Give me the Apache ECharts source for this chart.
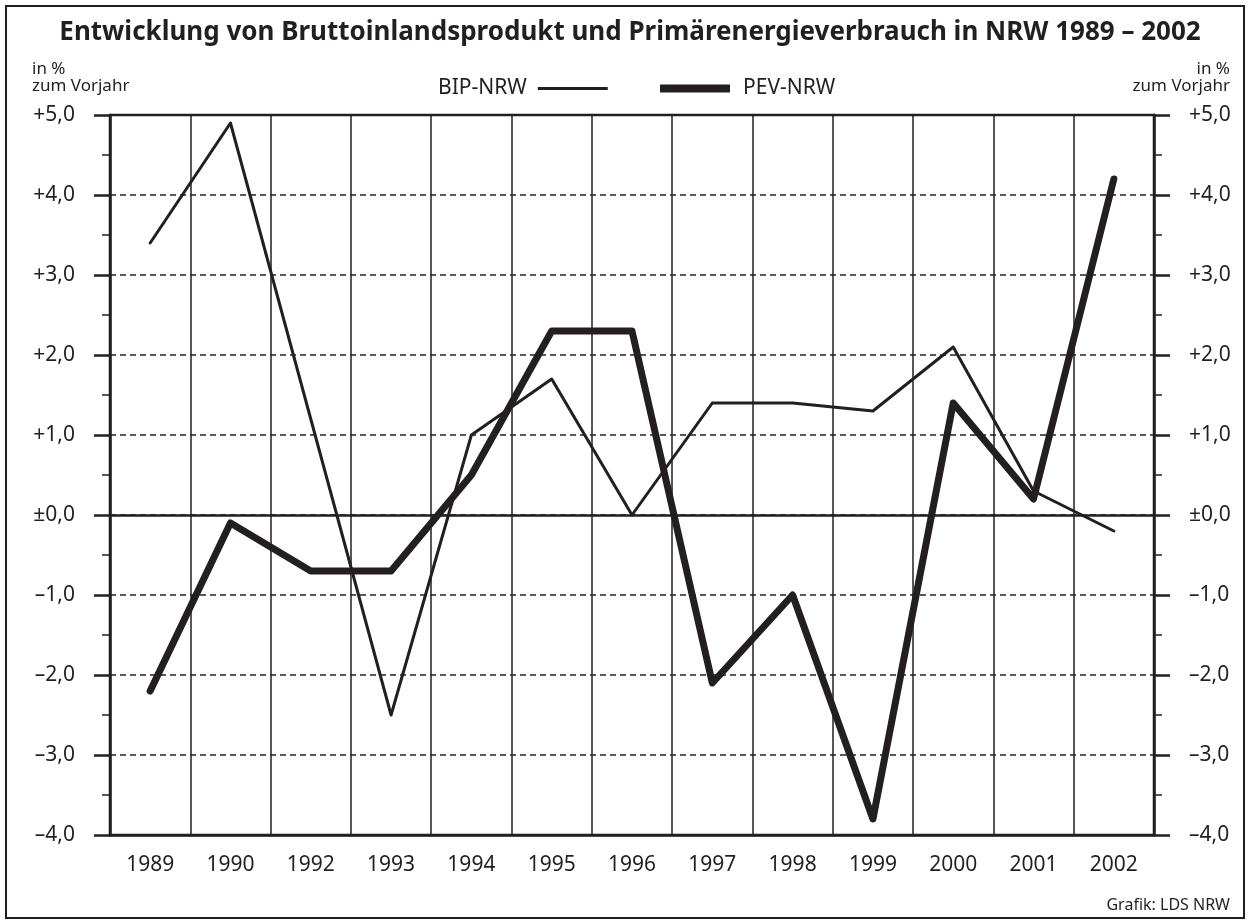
<!DOCTYPE html>
<html>
<head>
<meta charset="utf-8">
<script src="https://cdn.jsdelivr.net/npm/echarts@6/dist/echarts.min.js"></script>
<style>
html,body{margin:0;padding:0;background:#fff;}
#main{width:1250px;height:924px;}
</style>
</head>
<body>
<div id="main"></div>
<script>
// Jahre (1991 fehlt in der Vorlage)
const years = ['1989','1990','1992','1993','1994','1995','1996','1997','1998','1999','2000','2001','2002'];
// Veränderung in % zum Vorjahr
const bipNRW = [3.4, 4.9, 1.2, -2.5, 1.0, 1.7, 0.0, 1.4, 1.4, 1.3, 2.1, 0.3, -0.2];
const pevNRW = [-2.2, -0.1, -0.7, -0.7, 0.5, 2.3, 2.3, -2.1, -1.0, -3.8, 1.4, 0.2, 4.2];
// Achsenbeschriftung von -4 bis +5
const yTickLabels = ['–4,0','–3,0','–2,0','–1,0','±0,0','+1,0','+2,0','+3,0','+4,0','+5,0'];

const ink = '#231f20';
const font = '"Noto Sans", "Open Sans", sans-serif';

let myChart = echarts.init(document.getElementById('main'));

const yAxisBase = {
    type: 'value',
    min: -4,
    max: 5,
    interval: 1,
    axisLine: { show: true, lineStyle: { color: ink, width: 2.5 } },
    axisTick: { show: true, length: 16, lineStyle: { color: ink, width: 2.5 } },
    minorTick: { show: true, splitNumber: 2, length: 8, lineStyle: { color: ink, width: 1.5 } },
    axisLabel: {
        margin: 35,
        color: ink,
        fontSize: 21,
        fontFamily: font,
        formatter: function (v) { return yTickLabels[Math.round(v) + 4]; }
    }
};

const options = {
    animation: false,
    backgroundColor: '#fff',
    textStyle: { fontFamily: font, color: ink },
    grid: {
        left: 110,
        right: 96,
        top: 115,
        bottom: 89,
        show: true,
        borderColor: ink,
        borderWidth: 2.5,
        backgroundColor: 'transparent'
    },
    legend: [
        {
            data: [{ name: 'BIP-NRW', icon: 'rect' }],
            left: 433,
            top: 73,
            align: 'right',
            itemWidth: 70,
            itemHeight: 3,
            textStyle: { fontSize: 21, color: ink, fontFamily: font, padding: [0, 6, 0, 0] }
        },
        {
            data: [{ name: 'PEV-NRW', icon: 'rect' }],
            left: 655,
            top: 73,
            align: 'left',
            itemWidth: 70,
            itemHeight: 8,
            textStyle: { fontSize: 21, color: ink, fontFamily: font, padding: [0, 0, 0, 8] }
        }
    ],
    xAxis: {
        type: 'category',
        data: years,
        boundaryGap: true,
        axisLine: { show: true, onZero: false, lineStyle: { color: ink, width: 2.5 } },
        axisTick: { show: false },
        splitLine: { show: true, interval: 0, lineStyle: { color: ink, width: 1.5 } },
        axisLabel: { margin: 20, color: ink, fontSize: 21, fontFamily: font, interval: 0 }
    },
    yAxis: [
        Object.assign({}, yAxisBase, {
            position: 'left',
            splitLine: { show: true, lineStyle: { color: ink, width: 1.5, type: [6, 4] } }
        }),
        Object.assign({}, yAxisBase, {
            position: 'right',
            splitLine: { show: false }
        })
    ],
    series: [
        {
            name: 'BIP-NRW',
            type: 'line',
            data: bipNRW,
            symbol: 'none',
            color: ink,
            lineStyle: { color: ink, width: 3, cap: 'round', join: 'round' },
            markLine: {
                silent: true,
                symbol: ['none', 'none'],
                label: { show: false },
                lineStyle: { color: ink, width: 2.5, type: 'solid' },
                data: [{ yAxis: 0 }]
            },
            z: 3
        },
        {
            name: 'PEV-NRW',
            type: 'line',
            data: pevNRW,
            symbol: 'none',
            color: ink,
            lineStyle: { color: ink, width: 7, cap: 'round', join: 'round' },
            z: 4
        }
    ],
    graphic: [
        {
            type: 'rect',
            shape: { x: 6, y: 6, width: 1238, height: 912 },
            style: { fill: 'none', stroke: ink, lineWidth: 2 },
            silent: true
        },
        {
            type: 'text',
            style: {
                text: 'Entwicklung von Bruttoinlandsprodukt und Primärenergieverbrauch in NRW 1989 – 2002',
                x: 630, y: 33,
                textAlign: 'center', textVerticalAlign: 'middle',
                align: 'center', verticalAlign: 'middle',
                font: 'bold 26px ' + font,
                fill: ink
            }
        },
        {
            type: 'text',
            style: {
                text: 'in %\nzum Vorjahr',
                x: 32, y: 78,
                textAlign: 'left', textVerticalAlign: 'middle',
                align: 'left', verticalAlign: 'middle',
                font: '17px ' + font,
                lineHeight: 17,
                fill: ink
            }
        },
        {
            type: 'text',
            style: {
                text: 'in %\nzum Vorjahr',
                x: 1230, y: 78,
                textAlign: 'right', textVerticalAlign: 'middle',
                align: 'right', verticalAlign: 'middle',
                font: '17px ' + font,
                lineHeight: 17,
                fill: ink
            }
        },
        {
            type: 'text',
            style: {
                text: 'Grafik: LDS NRW',
                x: 1230, y: 905,
                textAlign: 'right', textVerticalAlign: 'middle',
                align: 'right', verticalAlign: 'middle',
                font: '16px ' + font,
                fill: ink
            }
        }
    ]
};

myChart.setOption(options);
</script>
</body>
</html>
